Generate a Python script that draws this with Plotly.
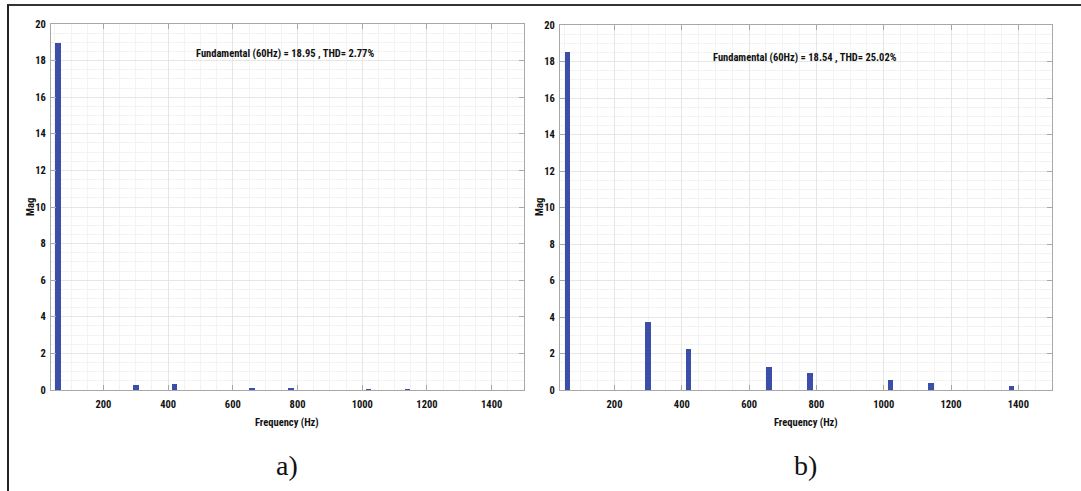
import plotly.graph_objects as go

# Harmonic spectrum (FFT analysis) of two waveforms
freq_hz = [60, 300, 420, 660, 780, 1020, 1140, 1380]
mag_a = [18.95, 0.28, 0.32, 0.06, 0.06, 0.02, 0.02, 0.0]
mag_b = [18.54, 3.74, 2.22, 1.26, 0.93, 0.54, 0.41, 0.22]

title_a = "Fundamental (60Hz) = 18.95 , THD= 2.77%"
title_b = "Fundamental (60Hz) = 18.54 , THD= 25.02%"
panel_labels = ["a)", "b)"]
x_title = "Frequency (Hz)"
y_title = "Mag"

x_ticks = [200, 400, 600, 800, 1000, 1200, 1400]
y_ticks = [0, 2, 4, 6, 8, 10, 12, 14, 16, 18, 20]

W, H = 1081, 491
BAR = "#3B4FA8"
NARROW = "Liberation Sans Narrow, Arial Narrow, Roboto Condensed, sans-serif"

fig = go.Figure()
fig.add_trace(go.Bar(x=freq_hz, y=mag_a, width=17, marker_color=BAR,
                     marker_line_width=0, xaxis="x", yaxis="y", showlegend=False))
fig.add_trace(go.Bar(x=freq_hz, y=mag_b, width=17, marker_color=BAR,
                     marker_line_width=0, xaxis="x2", yaxis="y2", showlegend=False))

def px_x(p):
    return p / W

def px_y(p):
    return 1 - p / H

bottom = px_y(390)
top_a = px_y(24)
top_b = px_y(25)

axis_common = dict(
    showline=True, linecolor="#a8a8a8", linewidth=1, mirror="ticks",
    ticks="inside", ticklen=5, tickcolor="#a8a8a8",
    showgrid=True, gridcolor="#e6e6e6", gridwidth=1,
    zeroline=False, automargin=False,
    tickfont=dict(family=NARROW, size=10.5, color="#111111", weight="bold"),
)

x_common = dict(axis_common, range=[38, 1500], tickvals=x_ticks, ticklabelstandoff=4,
                minor=dict(dtick=50, tick0=0, showgrid=True, gridcolor="#f3f3f3", ticks=""))
y_common = dict(axis_common, range=[0, 20], tickvals=y_ticks, ticklabelstandoff=2,
                minor=dict(dtick=0.5, tick0=0, showgrid=True, gridcolor="#f3f3f3", ticks=""))

lab_font = dict(family=NARROW, size=10.5, color="#111111", weight="bold")

fig.update_layout(
    width=W, height=H,
    margin=dict(l=0, r=0, t=0, b=0, autoexpand=False),
    paper_bgcolor="white", plot_bgcolor="white",
    bargap=0,
    xaxis=dict(x_common, domain=[px_x(51), px_x(524)], anchor="y"),
    yaxis=dict(y_common, domain=[bottom, top_a], anchor="x"),
    xaxis2=dict(x_common, domain=[px_x(560), px_x(1052)], anchor="y2"),
    yaxis2=dict(y_common, domain=[bottom, top_b], anchor="x2"),
)

def add_text(text, cx, cy, font, angle=0):
    fig.add_annotation(text=text, xref="paper", yref="paper",
                       x=px_x(cx), y=px_y(cy), xanchor="center", yanchor="middle",
                       showarrow=False, textangle=angle, font=font)

# Spectrum headers inside each plot
add_text(title_a, 285, 53, lab_font)
add_text(title_b, 805, 58, lab_font)

# Axis titles
for cx in (287, 806):
    add_text(x_title, cx, 422, lab_font)
for cx in (31, 540):
    add_text(y_title, cx, 207, lab_font, angle=-90)

# Panel captions
serif = dict(family="Liberation Serif, Times New Roman, serif", size=28, color="#111111")
for lab, cx in zip(panel_labels, [287, 805]):
    add_text(lab, cx, 465, serif)

# Frame lines along the top and left edges
fig.add_shape(type="line", xref="paper", yref="paper",
              x0=px_x(7), x1=1, y0=px_y(5), y1=px_y(5),
              line=dict(color="#333333", width=2))
fig.add_shape(type="line", xref="paper", yref="paper",
              x0=px_x(8), x1=px_x(8), y0=px_y(5), y1=0,
              line=dict(color="#222222", width=2))

fig.write_html("out.html")
